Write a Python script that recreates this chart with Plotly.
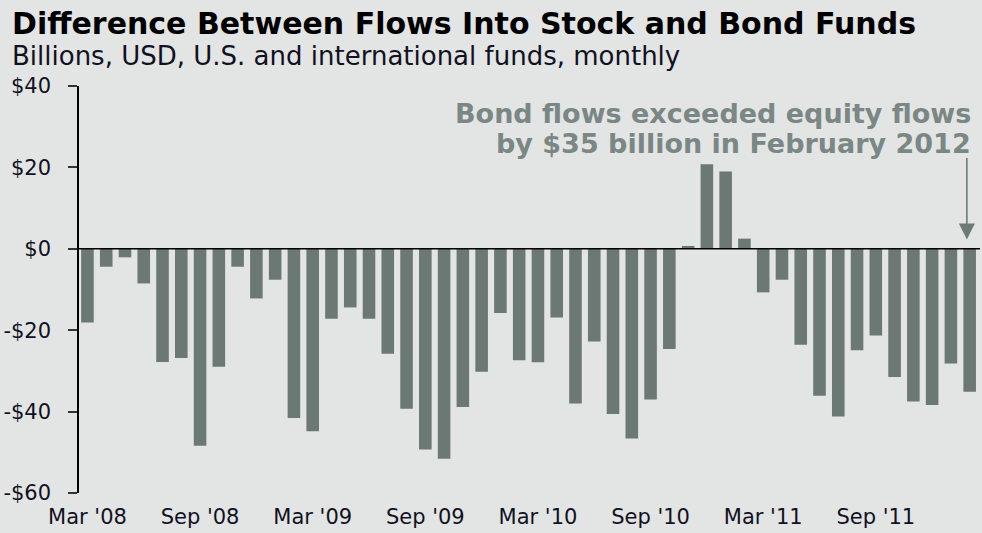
import plotly.graph_objects as go

months = ["Mar '08", "Apr '08", "May '08", "Jun '08", "Jul '08", "Aug '08", "Sep '08", "Oct '08",
          "Nov '08", "Dec '08", "Jan '09", "Feb '09", "Mar '09", "Apr '09", "May '09", "Jun '09",
          "Jul '09", "Aug '09", "Sep '09", "Oct '09", "Nov '09", "Dec '09", "Jan '10", "Feb '10",
          "Mar '10", "Apr '10", "May '10", "Jun '10", "Jul '10", "Aug '10", "Sep '10", "Oct '10",
          "Nov '10", "Dec '10", "Jan '11", "Feb '11", "Mar '11", "Apr '11", "May '11", "Jun '11",
          "Jul '11", "Aug '11", "Sep '11", "Oct '11", "Nov '11", "Dec '11", "Jan '12", "Feb '12"]

flow_diff = [-18.1, -4.4, -2.1, -8.5, -27.8, -26.8, -48.4, -29.0,
             -4.4, -12.2, -7.6, -41.6, -44.8, -17.2, -14.4, -17.2,
             -25.8, -39.3, -49.3, -51.6, -38.9, -30.2, -15.8, -27.4,
             -27.9, -16.9, -38.0, -22.8, -40.6, -46.6, -37.0, -24.6,
             0.7, 20.8, 19.0, 2.5, -10.7, -7.6, -23.6, -36.1,
             -41.2, -24.9, -21.3, -31.5, -37.5, -38.4, -28.2, -35.1]

x_ticks = ["Mar '08", "Sep '08", "Mar '09", "Sep '09", "Mar '10", "Sep '10", "Mar '11", "Sep '11"]
y_ticks = [40, 20, 0, -20, -40, -60]
y_tick_labels = ["$40", "$20", "$0", "-$20", "-$40", "-$60"]

title = "Difference Between Flows Into Stock and Bond Funds"
subtitle = "Billions, USD, U.S. and international funds, monthly"
note1 = "Bond flows exceeded equity flows"
note2 = "by $35 billion in February 2012"

BG = "#e3e5e4"
BAR = "#6b7874"
NOTE = "#7b8784"
FONT = "DejaVu Sans"

xs = list(range(len(months)))

fig = go.Figure()
fig.add_trace(go.Bar(x=xs, y=flow_diff, marker=dict(color=BAR, line=dict(width=0)),
                     hoverinfo="skip"))

# plot area geometry (pixels)
L, R, T, B = 79, 2, 86, 40
W, H = 982, 533
pw, ph = W - L - R, H - T - B

def px(xp):
    return (xp - L) / pw

def py(yp):
    return (H - B - yp) / ph

fig.update_layout(
    width=W, height=H,
    margin=dict(l=L, r=R, t=T, b=B),
    paper_bgcolor=BG, plot_bgcolor=BG,
    bargap=0.33,
    showlegend=False,
    font=dict(family=FONT, color="#111122"),
    xaxis=dict(
        range=[-0.45, len(months) - 0.45],
        tickmode="array",
        tickvals=[months.index(m) for m in x_ticks],
        ticktext=x_ticks,
        ticks="", showline=False, showgrid=False, zeroline=False,
        tickfont=dict(size=21, family=FONT, color="#111122"),
        ticklabelstandoff=9,
    ),
    yaxis=dict(
        range=[-60, 40],
        tickmode="array",
        tickvals=y_ticks,
        ticktext=y_tick_labels,
        showline=True, linecolor="#000000", linewidth=1.5,
        ticks="outside", ticklen=9, tickwidth=1.5, tickcolor="#333333",
        showgrid=False, zeroline=False,
        tickfont=dict(size=21, family=FONT, color="#111122"),
        ticklabelstandoff=13,
    ),
    shapes=[dict(type="line", xref="paper", yref="y", x0=0, x1=1, y0=0, y1=0,
                 line=dict(color="#000000", width=1.5), layer="above")],
    annotations=[
        dict(text="<b>" + title + "</b>", xref="paper", yref="paper",
             x=px(10), y=py(23), xanchor="left", yanchor="middle", showarrow=False,
             font=dict(size=30, family=FONT, color="#000000")),
        dict(text=subtitle, xref="paper", yref="paper",
             x=px(10), y=py(56), xanchor="left", yanchor="middle", showarrow=False,
             font=dict(size=26, family=FONT, color="#111122")),
        dict(text="<b>" + note1 + "</b>", xref="paper", yref="paper",
             x=px(973), y=py(113), xanchor="right", yanchor="middle", showarrow=False,
             font=dict(size=27, family=FONT, color=NOTE)),
        dict(text="<b>" + note2 + "</b>", xref="paper", yref="paper",
             x=px(973), y=py(143), xanchor="right", yanchor="middle", showarrow=False,
             font=dict(size=27, family=FONT, color=NOTE)),
        dict(text="", x=xs[-1] - 0.15, y=2.3, xref="x", yref="y",
             showarrow=True, ax=0, ay=-83, axref="pixel", ayref="pixel",
             arrowhead=2, arrowsize=2.0, arrowwidth=1.6, arrowcolor="#6f7a78"),
    ],
)

fig.write_html("out.html")
